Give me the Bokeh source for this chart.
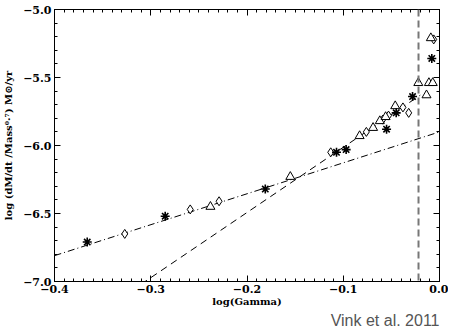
from bokeh.plotting import figure
from bokeh.models import (FixedTicker, LinearAxis, Span, Title, Range1d)
from bokeh.embed import file_html
from bokeh.resources import INLINE

# ---- data ----
ast_x = [-0.366, -0.285, -0.181, -0.107, -0.097, -0.055, -0.045, -0.028, -0.008]
ast_y = [-6.71, -6.52, -6.32, -6.05, -6.03, -5.88, -5.76, -5.64, -5.36]

dia_x = [-0.327, -0.259, -0.229, -0.113, -0.076, -0.059, -0.053, -0.038, -0.032, -0.006]
dia_y = [-6.65, -6.47, -6.41, -6.05, -5.90, -5.81, -5.78, -5.72, -5.76, -5.22]

tri_x = [-0.238, -0.155, -0.083, -0.069, -0.062, -0.056, -0.046, -0.022, -0.011, -0.007, -0.0135, -0.009]
tri_y = [-6.45, -6.23, -5.93, -5.87, -5.82, -5.79, -5.71, -5.54, -5.54, -5.54, -5.63, -5.21]

dashdot_x = [-0.4, 0.0]
dashdot_y = [-6.81, -5.90]
dashed_x = [-0.31, -0.02]
dashed_y = [-7.02, -5.63]
vline_x = -0.0218

x_ticks = [-0.4, -0.3, -0.2, -0.1, 0.0]
x_labels = ["\u22120.4", "\u22120.3", "\u22120.2", "\u22120.1", "0.0"]
y_ticks = [-7.0, -6.5, -6.0, -5.5, -5.0]
y_labels = ["\u22127.0", "\u22126.5", "\u22126.0", "\u22125.5", "\u22125.0"]

x_minor = [round(-0.4 + 0.01 * i, 3) for i in range(41)]
y_minor = [round(-7.0 + 0.1 * i, 2) for i in range(21)]

FONT = "DejaVu Serif"

p = figure(width=441, height=328, output_backend="svg", toolbar_location=None,
           x_range=Range1d(-0.4, 0.0), y_range=Range1d(-7.0, -5.0),
           min_border_left=13, min_border_right=9, min_border_top=9, min_border_bottom=0,
           frame_width=385, frame_height=272)
p.grid.visible = False
p.outline_line_color = "black"
p.outline_line_width = 1
p.background_fill_color = "white"

def style_axis(ax):
    ax.axis_line_color = "black"
    ax.major_tick_in = 6
    ax.major_tick_out = 0
    ax.minor_tick_in = 3
    ax.minor_tick_out = 0
    ax.major_tick_line_color = "black"
    ax.minor_tick_line_color = "black"
    ax.major_label_text_font = FONT
    ax.major_label_text_font_style = "bold"
    ax.major_label_text_font_size = "11px"
    ax.major_label_text_color = "black"
    ax.axis_label_text_font = FONT
    ax.axis_label_text_font_style = "bold"
    ax.axis_label_text_font_size = "10px"
    ax.axis_label_text_color = "black"

xt = FixedTicker(ticks=x_ticks, minor_ticks=x_minor)
yt = FixedTicker(ticks=y_ticks, minor_ticks=y_minor)

p.xaxis.ticker = xt
p.yaxis.ticker = yt
p.xaxis.major_label_overrides = dict(zip(x_ticks, x_labels))
p.yaxis.major_label_overrides = dict(zip(y_ticks, y_labels))
p.xaxis.axis_label = "log(Gamma)"
p.yaxis.axis_label = "log (dM/dt /Mass\u2070\u00b7\u2077) M\u2299/yr"
for ax in p.xaxis + p.yaxis:
    style_axis(ax)
p.xaxis.axis_label_standoff = 0
p.yaxis.axis_label_standoff = 6
p.xaxis.major_label_standoff = 3
p.yaxis.major_label_standoff = 3

top = LinearAxis(ticker=FixedTicker(ticks=x_ticks, minor_ticks=x_minor))
right = LinearAxis(ticker=FixedTicker(ticks=y_ticks, minor_ticks=y_minor))
style_axis(top)
style_axis(right)
top.major_label_overrides = {t: "" for t in x_ticks}
right.major_label_overrides = {t: "" for t in y_ticks}
top.major_label_standoff = 0
right.major_label_standoff = 0
p.add_layout(top, "above")
p.add_layout(right, "right")

# lines
p.line(dashdot_x, dashdot_y, line_color="black", line_width=1, line_dash="7 3 1 3")
p.line(dashed_x, dashed_y, line_color="black", line_width=1, line_dash="7 5")
p.add_layout(Span(location=vline_x, dimension="height", line_color="#777777",
                  line_width=2, line_dash="7 4"))

# points
p.scatter(dia_x, dia_y, marker="diamond", size=9, fill_color="white",
          line_color="black", line_width=1)
p.scatter(tri_x, tri_y, marker="triangle", size=9, fill_color="white",
          line_color="black", line_width=1)
p.scatter(ast_x, ast_y, marker="asterisk", size=9, line_color="black", line_width=1.6)

p.add_layout(Title(text="Vink et al. 2011", align="right", text_font="Liberation Sans",
                   text_font_style="normal", text_font_size="16px", text_line_height=0.8,
                   text_color="#555555", standoff=0, offset=0), "below")

open("out.html", "w").write(file_html(p, INLINE))
